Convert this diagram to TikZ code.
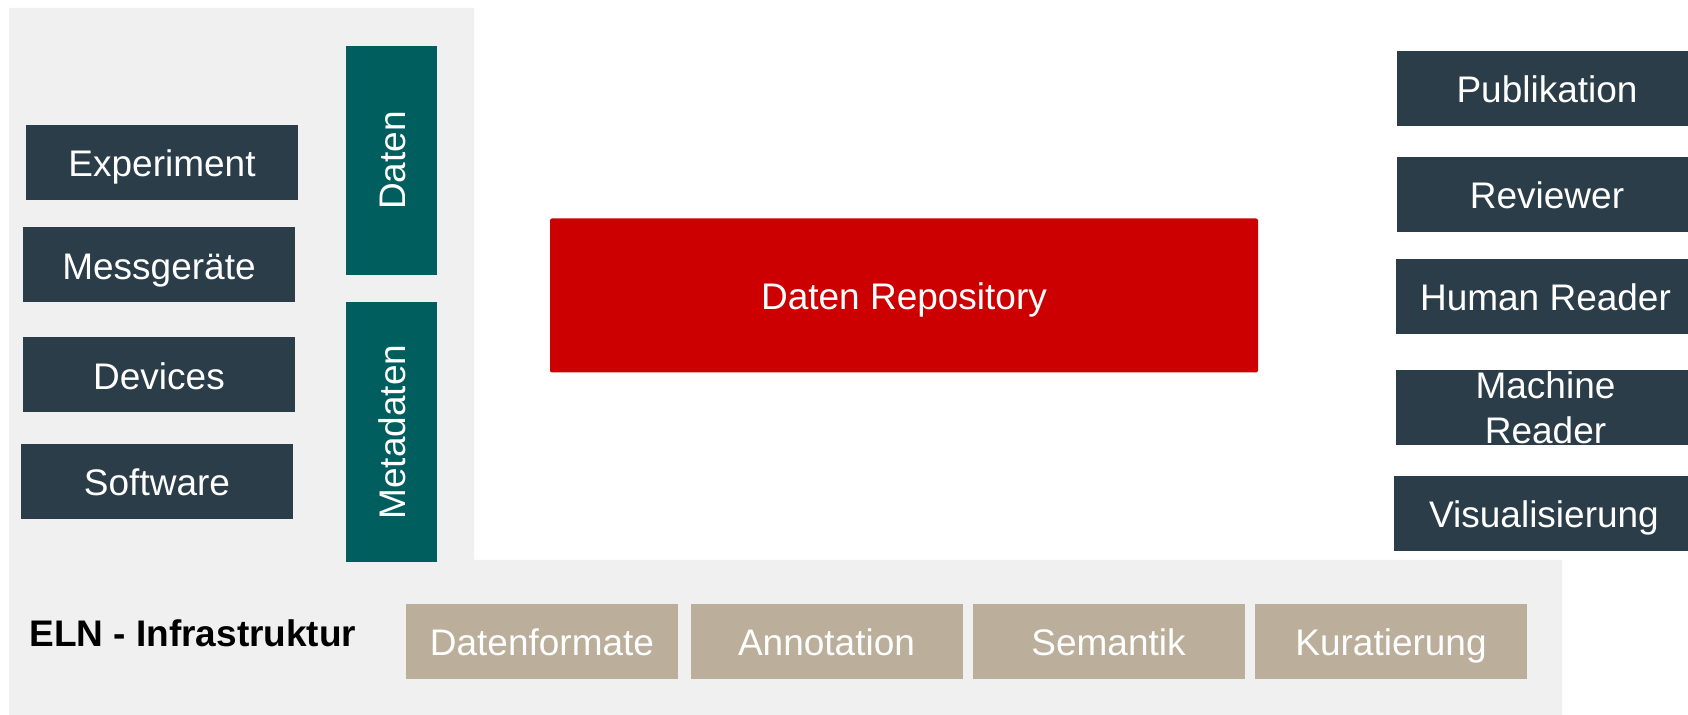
\documentclass[tikz,border=0pt]{standalone}
\usepackage{fontspec}
\setmainfont{Liberation Sans}
\definecolor{slate}{HTML}{2B3D48}
\definecolor{petrol}{HTML}{005E5E}
\definecolor{sand}{HTML}{BBAE9A}
\definecolor{repored}{HTML}{CC0000}
\definecolor{panelgray}{HTML}{F0F0F0}
\tikzset{
  label font/.style={font=\fontsize{18.5}{22.3}\selectfont},
  tile/.style={label font, text=white, inner sep=0pt, text height=14.3pt, text depth=0pt},
  source/.style={tile, fill=slate, minimum width=136pt, minimum height=37.5pt},
  reader/.style={tile, fill=slate, minimum width=150pt, minimum height=37.5pt},
  layer/.style={tile, fill=petrol, rotate=90, minimum height=45.5pt},
  service/.style={tile, fill=sand, minimum width=136pt, minimum height=37.5pt}
}
\begin{document}
\begin{tikzpicture}[x=.5pt,y=-.5pt]
    \useasboundingbox (0,0) rectangle (1688,715);
    \clip (0,0) rectangle (1688,715);
    \fill[panelgray] (9,8) -- (474,8) -- (474,560) -- (1562,560) -- (1562,715) -- (9,715) -- cycle;
    \node[source] (experiment) at (162,162.5) {Experiment};
    \node[source] (messgeraete) at (159,265) {Messgeräte};
    \node[source] (devices) at (159,375) {Devices};
    \node[source] (software) at (157,481.5) {Software};
    \node[layer, minimum width=114.5pt] (daten) at (391.5,160.5) {Daten};
    \node[layer, minimum width=130pt] (metadaten) at (391.5,432) {Metadaten};
    \node[tile, fill=repored, rounded corners=1pt, minimum width=354pt, minimum height=77pt] (repo) at (904,295.5) {Daten Repository};
    \node[reader] (publikation) at (1547,88.5) {Publikation};
    \node[reader] (reviewer) at (1547,194.5) {Reviewer};
    \node[reader] (human) at (1545.5,296.5) {Human Reader};
    \node[reader, text height={}, text depth={}, align=center] (machine) at (1545.5,407.5) {Machine\\Reader};
    \node[reader] (visual) at (1544,513.5) {Visualisierung};
    \node[font=\fontsize{18.5}{22.3}\selectfont\bfseries, anchor=base west, inner sep=0pt] (eln) at (29,647) {ELN - Infrastruktur};
    \node[service] (formate) at (542,641.5) {Datenformate};
    \node[service] (annotation) at (826.5,641.5) {Annotation};
    \node[service] (semantik) at (1108.5,641.5) {Semantik};
    \node[service] (kuratierung) at (1391,641.5) {Kuratierung};
  \end{tikzpicture}
\end{document}
